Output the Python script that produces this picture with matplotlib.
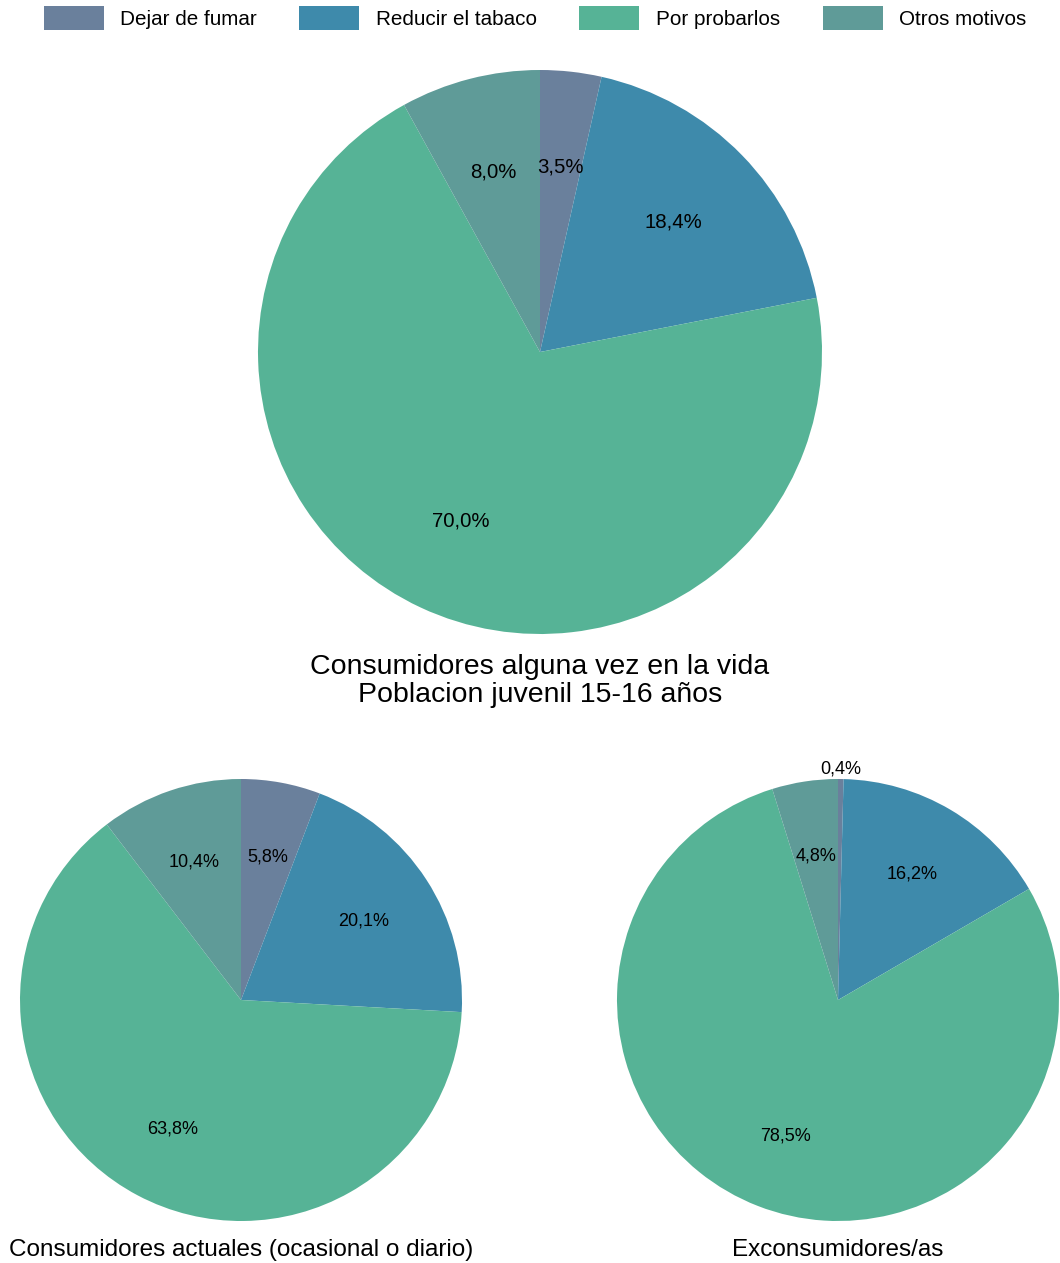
import matplotlib
matplotlib.use("Agg")
import matplotlib.pyplot as plt
from matplotlib.patches import Patch
import numpy as np

plt.rcParams['font.family'] = ['Liberation Sans', 'DejaVu Sans']

categories = ["Dejar de fumar", "Reducir el tabaco", "Por probarlos", "Otros motivos"]
colors = ["#6a809c", "#3e8aab", "#56b396", "#5f9b98"]

alguna_vez = [3.5, 18.4, 70.0, 8.0]
actuales = [5.8, 20.1, 63.8, 10.4]
exconsumidores = [0.4, 16.2, 78.5, 4.8]

title_top = "Consumidores alguna vez en la vida\nPoblacion juvenil 15-16 años"
title_left = "Consumidores actuales (ocasional o diario)"
title_right = "Exconsumidores/as"

W, H = 1060, 1263
fig = plt.figure(figsize=(W / 100, H / 100), dpi=100)


def pie_axes(cx, cy, r):
    ax = fig.add_axes([(cx - r) / W, (H - cy - r) / H, 2 * r / W, 2 * r / H])
    return ax


def draw_pie(ax, values, fontsize, small_outside=False):
    labels = iter(values)
    wedges, _, autotexts = ax.pie(
        values, colors=colors, startangle=90, counterclock=False,
        radius=1, pctdistance=0.66, labels=None,
        autopct=lambda p: f"{next(labels):.1f}%".replace('.', ','),
        wedgeprops=dict(linewidth=0),
        textprops=dict(fontsize=fontsize, color='black'))
    if small_outside:
        for w, t, v in zip(wedges, autotexts, values):
            if v < 2:
                ang = np.deg2rad((w.theta1 + w.theta2) / 2)
                t.set_position((1.045 * np.cos(ang), 1.045 * np.sin(ang)))
    # pie() widens the limits; pin them so the disc fills its axes
    ax.set_xlim(-1, 1)
    ax.set_ylim(-1, 1)
    ax.set_aspect('equal')
    ax.axis('off')
    return wedges


draw_pie(pie_axes(540, 352, 282), alguna_vez, 14.7)
draw_pie(pie_axes(241, 1000, 221), actuales, 13.0)
draw_pie(pie_axes(838, 1000, 221), exconsumidores, 13.0, small_outside=True)

lines = title_top.split("\n")
fig.text(540 / W, 1 - 667 / H, lines[0], ha='center', va='center', fontsize=20.5)
fig.text(540 / W, 1 - 695 / H, lines[1], ha='center', va='center', fontsize=20.5)
fig.text(241 / W, 1 - 1250 / H, title_left, ha='center', va='center', fontsize=17.5)
fig.text(838 / W, 1 - 1250 / H, title_right, ha='center', va='center', fontsize=17.5)

handles = [Patch(facecolor=c, edgecolor='none') for c in colors]
fig.legend(handles, categories, loc='upper center',
           bbox_to_anchor=(0.5 + 5 / W, 1.0),
           ncol=4, frameon=False, fontsize=14.9, handlelength=2.9,
           handleheight=1.4, handletextpad=0.8, columnspacing=2.05,
           borderaxespad=0.0, borderpad=0.3)

fig.savefig("out.png", dpi=100, facecolor='white')
